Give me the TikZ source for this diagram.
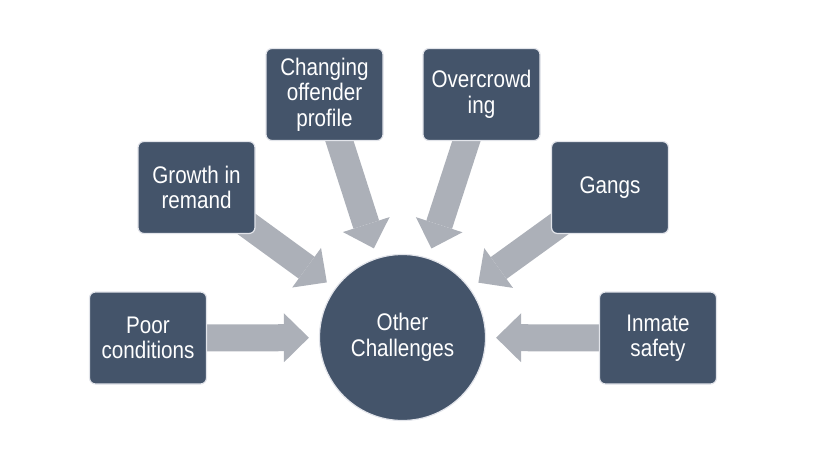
\documentclass[tikz,border=0pt]{standalone}
\usepackage{fontspec}
\setmainfont{Liberation Sans}[FakeStretch=0.86]
\usetikzlibrary{arrows.meta,backgrounds}
\definecolor{slate}{RGB}{68,84,106}
\definecolor{arrowgray}{RGB}{172,176,184}
\definecolor{rim}{RGB}{226,228,234}

\begin{document}
\begin{tikzpicture}[x=1pt,y=-1pt,
    cause/.style={draw=rim,line width=1.2pt,fill=slate,rounded corners=6pt,
        minimum width=117pt,minimum height=92pt,inner sep=2pt,
        text=white,align=center,font=\fontsize{24}{25.5}\selectfont},
    hub/.style={circle,draw=rim,line width=1.2pt,fill=slate,minimum size=166pt,
        text=white,align=center,font=\fontsize{24}{25.5}\selectfont},
    push/.style={draw=arrowgray,line width=27pt,
        -{Triangle[width=49pt,length=25pt,line width=0pt]},shorten >=10pt}]
    \useasboundingbox (0,0) rectangle (831,464);

    \node[hub] (other) at (402.5,337.5) {Other\\Challenges};

    \node[cause] (poor) at (148,338) {Poor\\conditions};
    \node[cause] (growth) at (196.5,187.5) {Growth in\\remand};
    \node[cause] (changing) at (324.5,94.5) {Changing\\offender\\profile};
    \node[cause] (overcrowd) at (481.5,94.5) {Overcrowd\\ing};
    \node[cause] (gangs) at (610,187.5) {Gangs};
    \node[cause] (inmate) at (658,338) {Inmate\\safety};

    % arrows run in from under the boxes
    \begin{scope}[on background layer]
        \draw[push] (poor.center) -- (other);
        \draw[push] (growth.center) -- (other);
        \draw[push] (changing.center) -- (other);
        \draw[push] (overcrowd.center) -- (other);
        \draw[push] (gangs.center) -- (other);
        \draw[push] (inmate.center) -- (other);
    \end{scope}
\end{tikzpicture}
\end{document}
